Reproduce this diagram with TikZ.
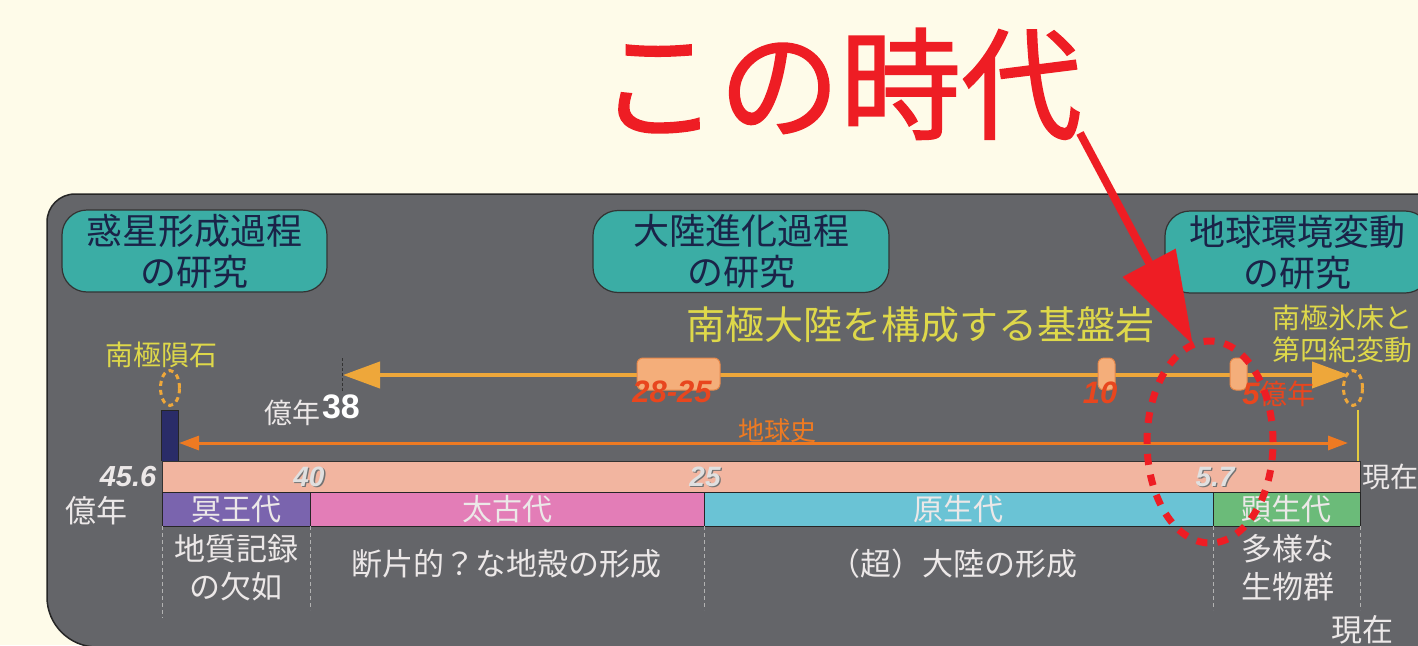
\documentclass[tikz,border=0pt]{standalone}
\usepackage{fontspec}
\setmainfont{Noto Sans CJK JP}
\newfontfamily\numfont{Liberation Sans}
\newfontfamily\titlefont[FakeBold=1.3]{Noto Sans CJK JP}
\usetikzlibrary{positioning,shapes.geometric,arrows.meta}

\definecolor{paper}{HTML}{FEFBE9}
\definecolor{panelgray}{HTML}{646569}
\definecolor{boxteal}{HTML}{3BADA5}
\definecolor{boxtext}{HTML}{1A2348}
\definecolor{hilitered}{HTML}{EE1D24}
\definecolor{rockyellow}{HTML}{DED84A}
\definecolor{rockarrow}{HTML}{EEA73A}
\definecolor{markfill}{HTML}{F4AE7A}
\definecolor{markline}{HTML}{E8894A}
\definecolor{agered}{HTML}{E8461E}
\definecolor{historange}{HTML}{EE7A22}
\definecolor{salmon}{HTML}{F2B5A0}
\definecolor{hadean}{HTML}{7A64AE}
\definecolor{archean}{HTML}{E37DB7}
\definecolor{proterozoic}{HTML}{6AC3D5}
\definecolor{phanerozoic}{HTML}{6BBB79}
\definecolor{navybar}{HTML}{2A2C68}
\definecolor{paletext}{HTML}{ECE8E8}

\newcommand{\setpx}[2]{\fontsize{#1}{#2}\selectfont}

\begin{document}
\begin{tikzpicture}[
    x=1pt, y=-1pt,
    every node/.style={inner sep=0pt, outer sep=0pt},
    studybox/.style={draw=black!80, line width=1.2pt, fill=boxteal, rounded corners=25pt,
        text=boxtext, align=center, font=\setpx{36}{41}, minimum height=82pt},
    era/.style={draw=black!85, line width=1pt, minimum height=34pt, text=paletext, font=\setpx{30}{30}},
    agelabel/.style={text=agered, font=\numfont\bfseries\itshape\setpx{31}{31}},
    ticklabel/.style={text=white!88!black, font=\numfont\bfseries\itshape\setpx{28}{28}},
    tickshade/.style={text=black!55, font=\numfont\bfseries\itshape\setpx{28}{28}},
    note/.style={text=paletext, align=center, font=\setpx{31}{38}},
    rockmark/.style={draw=markline, line width=1pt, fill=markfill, rounded corners=6pt, minimum height=32pt},
    sample/.style={ellipse, draw=rockarrow, line width=3pt, dash pattern=on 5pt off 4pt,
        minimum width=19pt, minimum height=35pt},
    focusring/.style={ellipse, draw=hilitered, line width=7pt, dash pattern=on 11pt off 10pt,
        minimum width=126pt, minimum height=202pt},
    timecut/.style={dash pattern=on 4pt off 3pt, draw=black!30, line width=0.8pt}
]
\useasboundingbox (0,0) rectangle (1418,645);
\clip (0,0) rectangle (1418,645);
\fill[paper] (0,0) rectangle (1418,645);

% Panel
\filldraw[fill=panelgray, draw=black!85, line width=1.5pt]
    (1430,194) -- (75,194) .. controls (59.5,194) and (47,206.5) .. (47,222)
    -- (47,597) .. controls (47,624.6) and (69.4,647) .. (97,647) -- (1430,647) -- cycle;

% Research boxes
\node[studybox, minimum width=265pt] (planetbox) at (194.5,251) {惑星形成過程\\の研究};
\node[studybox, minimum width=296pt] (continentbox) at (741,251.5) {大陸進化過程\\の研究};
\node[studybox, minimum width=265pt] (climatebox) at (1297.5,252) {地球環境変動\\の研究};

% Basement rocks
\node[text=rockyellow, font=\setpx{39}{39}] (rocktitle) at (920,325) {南極大陸を構成する基盤岩};
\node[text=rockyellow, font=\setpx{28}{28}] (meteoritelabel) at (161,355) {南極隕石};
\node[text=rockyellow, font=\setpx{28}{32}, align=left, anchor=west] (icelabel) at (1272,334) {南極氷床と\\第四紀変動};
\node[sample] (meteorite) at (170,388) {};
\node[sample] (icesheet) at (1353,388) {};

\coordinate (rockold) at (343,375);
\coordinate (rocknow) at (1349,375);
\draw[dash pattern=on 3pt off 2pt, black!80, line width=0.8pt] (342,358) -- (342,392);
\draw[rockarrow, line width=4pt, {Triangle[length=37pt,width=26pt]}-{Triangle[length=37pt,width=26pt]}]
    (rockold) -- (rocknow);

\node[rockmark, minimum width=83pt] (mark2825) at (678.5,374) {};
\node[rockmark, minimum width=17pt] (mark10) at (1106.5,374) {};
\node[rockmark, minimum width=17pt] (mark5) at (1238.5,374) {};

\node[agelabel] (age2825) at (672,392) {28-25};
\node[agelabel] (age10) at (1100,393) {10};
\node[text=agered, font=\setpx{28}{28}] (age5) at (1279,394) {{\numfont\bfseries\itshape\setpx{31}{31}5}億年};

\node[text=paletext, font=\setpx{28}{28}] (oku38) at (292,413) {億年};
\node[text=white, font=\numfont\bfseries\setpx{34}{34}] (age38) at (341,407) {38};

% Earth history
\fill[navybar] (161,410) rectangle (178,461);
\draw[black!85, line width=0.8pt] (161,461) -- (161,410) -- (178,410) -- (178,461);
\draw[rockyellow!85!orange, line width=2.5pt] (1358,410) -- (1358,461);
\coordinate (histold) at (179,443);
\coordinate (histnow) at (1348,443);
\draw[historange, line width=3pt, {Triangle[length=20pt,width=14pt]}-{Triangle[length=20pt,width=14pt]}]
    (histold) -- (histnow);
\node[text=historange, font=\setpx{26}{26}] (histlabel) at (777,431) {地球史};

% Time bar
\node[draw=black!80, line width=1pt, fill=salmon, minimum width=1198pt, minimum height=31pt] (timebar) at (761,476.5) {};
\node[text=paletext, font=\numfont\bfseries\itshape\setpx{29}{29}] (age456) at (128,477) {45.6};
\foreach \lab/\px in {40/309, 25/705, 5.7/1215} {
    \node[tickshade] at (\px+1.3,478.3) {\lab};
    \node[ticklabel] (tick\px) at (\px,477) {\lab};
}
\node[text=paletext, font=\setpx{28}{28}, anchor=west] (nowright) at (1362,477) {現在};

% Eras
\node[era, fill=hadean, minimum width=148pt] (hadean) at (236,509) {冥王代};
\node[era, fill=archean, minimum width=394pt] (archean) at (507,509) {太古代};
\node[era, fill=proterozoic, minimum width=509pt] (proterozoic) at (958.5,509) {原生代};
\node[era, fill=phanerozoic, minimum width=147pt] (phanerozoic) at (1286.5,509) {顕生代};
\node[text=paletext, font=\setpx{31}{31}] (okuleft) at (96,511) {億年};

\draw[timecut] (hadean.south west) -- ++(0,92);
\draw[timecut] (archean.south west) -- ++(0,84);
\draw[timecut] (proterozoic.south west) -- ++(0,84);
\draw[timecut] (phanerozoic.south west) -- ++(0,84);
\draw[timecut] (phanerozoic.south east) -- ++(0,84);

\node[note] (norecord) at (236,568) {地質記録\\の欠如};
\node[note] (crust) at (506,564) {断片的？な地殻の形成};
\node[note] (supercont) at (953,564) {（超）大陸の形成};
\node[note] (diverse) at (1288,568) {多様な\\生物群};
\node[note] (nowbottom) at (1362,630) {現在};

% This era
\node[focusring] (focus) at (1210,442) {};
\node[text=hilitered, font=\titlefont\setpx{121}{121}] (title) at (840,84) {この時代};
\coordinate (titleend) at (1080,133);
\draw[hilitered, line width=8pt, -{Triangle[length=93pt,width=58pt]}] (titleend) -- (focus.100);

\end{tikzpicture}
\end{document}
